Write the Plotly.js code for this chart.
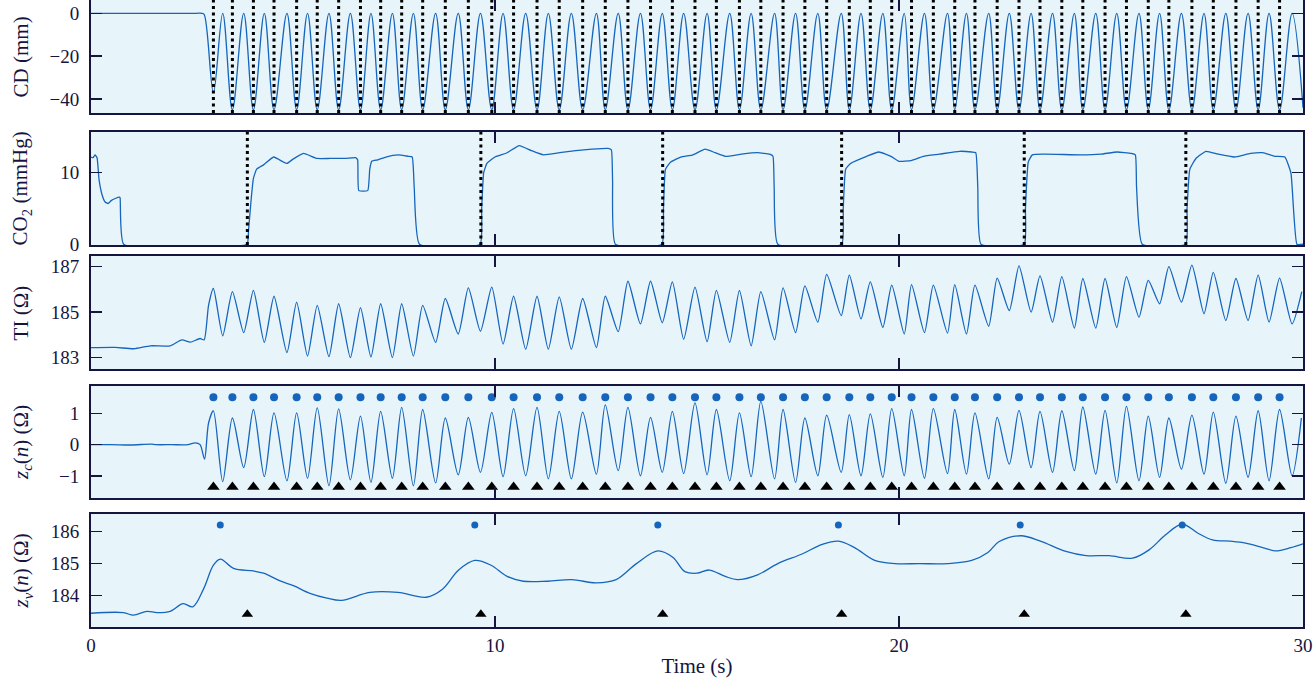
<!DOCTYPE html>
<html><head><meta charset="utf-8">
<script src="https://cdn.plot.ly/plotly-3.0.1.min.js"></script>
<style>html,body{margin:0;padding:0;background:#fff}#chart{width:1315px;height:685px}</style>
</head><body><div id="chart"></div>
<script>
// ---------- data ----------
// chest-compression instants (s)
const compTimes = [3.03,3.50,4.02,4.53,5.09,5.60,6.13,6.67,7.17,7.69,8.21,8.77,9.34,9.92,10.46,11.04,11.59,12.17,12.73,13.29,13.85,14.39,14.95,15.48,16.05,16.58,17.13,17.67,18.21,18.77,19.29,19.82,20.31,20.85,21.38,21.88,22.43,22.97,23.49,24.03,24.55,25.10,25.63,26.17,26.68,27.25,27.78,28.34,28.89,29.42];
// release / trough instants between compressions (s)
const releaseTimes = [3.26,3.78,4.29,4.85,5.36,5.89,6.42,6.93,7.46,7.98,8.53,9.09,9.64,10.20,10.76,11.32,11.89,12.51,13.05,13.60,14.14,14.67,15.25,15.81,16.34,16.92,17.44,17.99,18.57,19.06,19.60,20.13,20.63,21.20,21.67,22.22,22.73,23.27,23.80,24.34,24.87,25.39,25.94,26.45,26.99,27.55,28.09,28.64,29.16,29.73];
// ventilation instants (s) and z_v peak instants (s)
const ventTimes = [3.87,9.65,14.15,18.58,23.10,27.10];
const ventPeakTimes = [3.20,9.50,14.03,18.50,23.00,27.01];

// CD (mm)
const cdDepth = [-37,-45,-45,-45,-45,-45,-45,-45,-45,-45,-45,-45,-45,-45,-45,-45,-45,-45,-45,-45,-45,-45,-45,-45,-45,-45,-45,-45,-45,-45,-45,-45,-45,-45,-45,-45,-45,-45,-45,-45,-45,-45,-45,-45,-45,-45,-45,-45,-45,-45];
const cdRelease = [0,0,0,0,0,0,0,0,0,0,0,0,0,0,0,0,0,0,0,0,0,0,0,0,0,0,0,0,0,0,0,0,0,0,0,0,0,0,0,0,0,0,0,0,0,0,0,0,0,0];
const cdPreT = [0, 1.0, 2.0, 2.6, 2.74, 2.8];
const cdPreV = [0, 0, 0, 0, 0, -0.5];
const cdEndT = [30.0];
const cdEndV = [-44];

// CO2 (mmHg)
const co2T = [0,0.05,0.1,0.15,0.2,0.27,0.35,0.42,0.5,0.6,0.7,0.72,0.81,
  3.86,3.9,3.96,4.02,4.1,4.27,4.52,4.76,4.85,5.0,5.26,5.59,5.92,6.3,6.55,6.6,6.63,6.85,6.9,6.95,7.1,7.3,7.6,7.85,7.95,8.0,8.13,
  9.63,9.67,9.72,9.8,10.0,10.3,10.6,10.9,11.2,11.6,12.0,12.4,12.8,12.88,12.91,12.98,
  14.13,14.17,14.22,14.35,14.6,14.9,15.2,15.45,15.7,16.1,16.5,16.8,16.88,16.91,17.0,
  18.58,18.62,18.68,18.8,19.2,19.5,19.8,20.0,20.3,20.6,21.0,21.5,21.8,21.9,21.95,22.03,
  23.10,23.13,23.2,23.3,23.6,24.5,25.0,25.4,25.75,25.85,25.88,26.02,
  27.10,27.13,27.2,27.35,27.6,27.9,28.3,28.7,29.0,29.3,29.55,29.7,29.85,30.0];
const co2V = [12.2,12.1,12.5,12.1,9.0,7.0,5.9,5.7,6.1,6.4,6.6,6.5,0,
  0,2,6,9.2,10.5,11.1,12.2,11.5,11.3,11.9,12.7,12.0,12.0,12.0,12.1,11.8,7.5,7.5,10.5,11.6,11.8,12.2,12.5,12.3,12.2,8,0,
  0,5,10,11.3,12.2,12.8,13.8,13.1,12.5,12.8,13.1,13.3,13.4,13.2,9,0,
  0,5,10.5,11.5,12.2,12.5,13.3,12.8,12.3,12.6,12.8,12.6,12.3,8,0,
  0,5,10.5,11.3,12.3,12.9,12.3,11.6,11.7,12.3,12.6,13.0,12.9,12.8,8,0,
  0,5,11.5,12.5,12.6,12.5,12.6,12.9,12.7,12.5,8,0,
  0,5,10.5,12.0,13.0,12.6,12.2,12.7,12.8,12.3,12.2,10,0,0];

// TI (Ω)
const tiPreT = [0,0.6,1.06,1.47,1.96,2.25,2.46,2.70,2.80,2.91];
const tiPreV = [183.44,183.45,183.39,183.52,183.52,183.78,183.68,183.84,183.78,185.3];
const tiPeaks = [186.04,185.9,185.96,185.7,185.44,185.3,185.37,185.2,185.37,185.37,185.3,185.6,186.07,186.1,185.7,185.7,185.67,185.6,185.7,186.36,186.36,186.33,186.1,185.96,185.96,185.9,186.07,186.16,186.66,186.63,186.33,186.19,186.21,186.19,186.21,186.19,186.5,187.04,186.6,186.56,186.48,186.48,186.56,186.4,187.0,187.07,186.75,186.48,186.63,186.5];
const tiTroughs = [183.96,184.1,183.67,183.22,183.07,183.04,183.0,183.03,183.0,183.07,183.67,184.04,184.16,183.6,183.37,183.37,183.37,183.44,184.14,184.48,184.53,183.81,183.7,183.67,183.52,183.78,184.1,184.56,184.85,184.7,184.33,184.04,184.1,184.08,184.04,184.38,185.07,185.0,184.56,184.3,184.3,184.33,184.78,185.37,185.44,184.93,184.63,184.63,184.56,184.48];
const tiEndT = [29.97];
const tiEndV = [185.9];

// z_c(n) (Ω)
const zcPreT = [0,0.5,1.0,1.5,1.6,2.0,2.4,2.58,2.7,2.81,2.91];
const zcPreV = [0,0,-0.01,0.02,0,0,0,0.06,0,-0.46,0.69];
const zcPeaks = [1.08,0.85,1.12,1.01,1.01,1.17,1.14,0.91,1.06,1.19,1.12,0.85,0.87,1.03,1.15,1.19,1.06,1.04,1.27,1.19,0.87,1.06,1.33,1.12,1.01,1.38,1.12,0.85,0.94,0.96,0.98,1.15,1.12,1.15,1.12,1.01,0.87,1.09,1.06,1.08,1.2,1.09,1.22,0.91,0.85,0.94,1.04,0.91,1.08,1.12];
const zcTroughs = [-1.18,-0.73,-1.02,-1.15,-1.07,-1.31,-1.12,-1.2,-1.07,-1.31,-1.22,-0.96,-0.88,-1.02,-0.99,-1.09,-1.09,-0.94,-0.83,-0.99,-0.88,-0.92,-0.96,-1.15,-1.02,-1.09,-1.2,-0.99,-0.88,-0.99,-1.04,-0.99,-1.07,-0.92,-0.94,-1.09,-0.62,-0.73,-0.88,-0.83,-0.94,-1.22,-1.15,-1.04,-0.78,-0.94,-1.23,-1.04,-1.15,-0.99];
const zcEndT = [29.96];
const zcEndV = [0.85];

// z_v(n) (Ω)
const zvT = [0,0.8,1.05,1.39,1.63,1.96,2.28,2.52,2.79,3.03,3.2,3.53,4.02,4.27,4.68,5.01,5.42,5.84,6.2,6.9,7.6,8.3,8.7,9.1,9.5,9.9,10.3,10.7,11.3,11.9,12.5,13.0,13.5,14.03,14.4,14.7,15.0,15.3,15.7,16.0,16.5,17.0,17.6,18.1,18.5,18.9,19.4,19.9,20.5,21.2,21.8,22.2,22.48,23.02,23.5,24.13,24.63,25.2,25.78,26.19,26.6,27.01,27.4,27.76,28.2,28.58,29.0,29.32,29.7,30.0];
const zvV = [183.45,183.47,183.39,183.51,183.47,183.51,183.75,183.65,184.22,184.95,185.14,184.85,184.77,184.7,184.46,184.31,184.07,183.92,183.85,184.1,184.1,183.95,184.2,184.8,185.1,184.95,184.6,184.45,184.45,184.5,184.4,184.5,185.0,185.4,185.2,184.75,184.7,184.8,184.6,184.5,184.65,185.0,185.3,185.6,185.7,185.5,185.1,185.0,185.0,185.0,185.1,185.35,185.69,185.87,185.7,185.38,185.25,185.25,185.17,185.43,185.9,186.23,185.95,185.74,185.7,185.64,185.5,185.4,185.5,185.62];

// ---------- build ----------
function cycleSeries(preT, preV, pkT, pkV, trT, trV, endT, endV) {
  const x = preT.slice(), y = preV.slice();
  for (let i = 0; i < pkT.length; i++) {
    x.push(pkT[i]); y.push(pkV[i]);
    x.push(trT[i]); y.push(trV[i]);
  }
  return {x: x.concat(endT), y: y.concat(endV)};
}
const cd = cycleSeries(cdPreT, cdPreV, compTimes, cdDepth, releaseTimes, cdRelease, cdEndT, cdEndV);
const ti = cycleSeries(tiPreT, tiPreV, compTimes, tiPeaks, releaseTimes, tiTroughs, tiEndT, tiEndV);
const zc = cycleSeries(zcPreT, zcPreV, compTimes, zcPeaks, releaseTimes, zcTroughs, zcEndT, zcEndV);

const BLUE = '#1565bd', NAVY = '#15153f', FONT = 'Liberation Serif';
const lineStyle = {color: BLUE, width: 1.3};

const traces = [
  {x: cd.x, y: cd.y, xaxis: 'x', yaxis: 'y', mode: 'lines', line: Object.assign({shape: 'spline', smoothing: 1}, lineStyle)},
  {x: co2T, y: co2V, xaxis: 'x2', yaxis: 'y2', mode: 'lines', line: Object.assign({shape: 'spline', smoothing: 0.4}, lineStyle)},
  {x: ti.x, y: ti.y, xaxis: 'x3', yaxis: 'y3', mode: 'lines', line: Object.assign({shape: 'spline', smoothing: 0.6}, lineStyle)},
  {x: zc.x, y: zc.y, xaxis: 'x4', yaxis: 'y4', mode: 'lines', line: Object.assign({shape: 'spline', smoothing: 0.8}, lineStyle)},
  {x: compTimes, y: compTimes.map(() => 1.51), xaxis: 'x4', yaxis: 'y4', mode: 'markers', marker: {symbol: 'circle', size: 8, color: BLUE}},
  {x: compTimes, y: compTimes.map(() => -1.35), xaxis: 'x4', yaxis: 'y4', mode: 'markers', marker: {symbol: 'triangle-up', size: 11, color: '#000'}},
  {x: zvT, y: zvV, xaxis: 'x5', yaxis: 'y5', mode: 'lines', line: Object.assign({shape: 'spline', smoothing: 1}, lineStyle)},
  {x: ventPeakTimes, y: ventPeakTimes.map(() => 186.21), xaxis: 'x5', yaxis: 'y5', mode: 'markers', marker: {symbol: 'circle', size: 7, color: BLUE}},
  {x: ventTimes, y: ventTimes.map(() => 183.42), xaxis: 'x5', yaxis: 'y5', mode: 'markers', marker: {symbol: 'triangle-up', size: 10, color: '#000'}}
];

const shapes = [];
compTimes.forEach(t => shapes.push({type: 'line', xref: 'x', yref: 'y domain', x0: t, x1: t, y0: 0, y1: 1, line: {color: '#000', width: 3, dash: '3px,3.5px'}}));
ventTimes.forEach(t => shapes.push({type: 'line', xref: 'x2', yref: 'y2 domain', x0: t, x1: t, y0: 0, y1: 1, line: {color: '#000', width: 3, dash: '3px,3.5px'}}));

const domains = [[0.8198, 1], [0.6093, 0.7895], [0.4115, 0.5917], [0.2057, 0.3844], [0, 0.1802]];
const yRanges = [[-46.5, 6.2], [-0.1, 15.7], [182.5, 187.47], [-1.7, 1.87], [183.02, 186.55]];
const yTicks = [[-40, -20, 0], [0, 10], [183, 185, 187], [-1, 0, 1], [184, 185, 186]];
const yTitles = ['CD (mm)', 'CO<sub>2</sub> (mmHg)', 'TI (Ω)', '<i>z<sub>c</sub></i>(<i>n</i>) (Ω)', '<i>z<sub>v</sub></i>(<i>n</i>) (Ω)'];

const layout = {
  width: 1315, height: 685,
  margin: {l: 91, r: 12, t: 0, b: 58},
  paper_bgcolor: '#ffffff', plot_bgcolor: '#e7f5fb',
  showlegend: false,
  font: {family: FONT, size: 19, color: NAVY},
  shapes: shapes,
  annotations: []
};
for (let i = 0; i < 5; i++) {
  const s = i === 0 ? '' : String(i + 1);
  layout['xaxis' + s] = {
    domain: [0, 1], anchor: 'y' + s, range: [0, 30.0], tickvals: [0, 10, 20, 30],
    ticks: 'inside', ticklen: 11, tickwidth: 1.5, tickcolor: NAVY,
    showline: true, linewidth: 2, linecolor: NAVY, mirror: 'ticks',
    showgrid: false, zeroline: false, showticklabels: i === 4,
    tickfont: {family: FONT, size: 19, color: NAVY}
  };
  if (i > 0) layout['xaxis' + s].matches = 'x';
  layout['yaxis' + s] = {
    domain: domains[i], anchor: 'x' + s, range: yRanges[i], tickvals: yTicks[i],
    ticks: 'inside', ticklen: 11, tickwidth: 1.5, tickcolor: NAVY,
    showline: true, linewidth: 2, linecolor: NAVY, mirror: 'ticks',
    showgrid: false, zeroline: false, ticklabelstandoff: 6,
    tickfont: {family: FONT, size: 19, color: NAVY}
  };
  layout.annotations.push({
    text: yTitles[i], xref: 'paper', yref: 'paper', x: -0.057, y: (domains[i][0] + domains[i][1]) / 2,
    xanchor: 'center', yanchor: 'middle', textangle: -90, showarrow: false,
    font: {family: FONT, size: 21, color: NAVY}
  });
}
layout.xaxis5.title = {text: 'Time (s)', font: {family: FONT, size: 21, color: NAVY}, standoff: 4};

Plotly.newPlot('chart', traces, layout, {displayModeBar: false, staticPlot: true});
</script>
</body></html>
